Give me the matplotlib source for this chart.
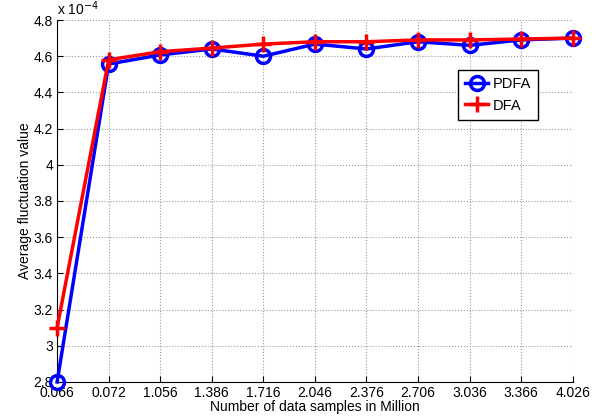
import matplotlib
matplotlib.use('Agg')
from matplotlib import pyplot as plt

labels = ['0.066', '0.072', '1.056', '1.386', '1.716', '2.046',
          '2.376', '2.706', '3.036', '3.366', '4.026']
pdfa = [2.80, 4.557, 4.607, 4.64, 4.60, 4.667, 4.64, 4.68, 4.66, 4.69, 4.70]
dfa = [3.10, 4.58, 4.625, 4.645, 4.667, 4.68, 4.68, 4.69, 4.69, 4.695, 4.70]

plt.rcParams['font.family'] = ['Liberation Sans', 'DejaVu Sans']
plt.rcParams['font.size'] = 10

fig = plt.figure(figsize=(6.01, 4.17), dpi=100)
ax = fig.add_axes([0.095, 0.084, 0.858, 0.868])
x = list(range(len(labels)))
ax.plot(x, pdfa, color='blue', lw=2.5, marker='o', ms=10, mfc='none',
        mew=2.5, label='PDFA', clip_on=False, zorder=3)
ax.plot(x, dfa, color='red', lw=2.5, marker='+', ms=12, mew=2.5, label='DFA',
        clip_on=False, zorder=4)

ax.set_xlim(0, 10)
ax.set_ylim(2.8, 4.8)
ax.set_xticks(x)
ax.set_xticklabels(labels)
ax.set_yticks([2.8, 3, 3.2, 3.4, 3.6, 3.8, 4, 4.2, 4.4, 4.6, 4.8])
ax.set_yticklabels(['2.8', '3', '3.2', '3.4', '3.6', '3.8', '4', '4.2',
                    '4.4', '4.6', '4.8'])
ax.grid(True, linestyle=':', color='#999999', lw=0.8)
ax.tick_params(direction='in', length=4, pad=3)
ax.spines['top'].set_visible(False)
ax.spines['right'].set_visible(False)
ax.set_xlabel('Number of data samples in Million', labelpad=0)
ax.set_ylabel('Average fluctuation value', labelpad=1)
ax.text(0.0, 1.005, r'x 10$^{-4}$', transform=ax.transAxes, ha='left', va='bottom')

leg = ax.legend(loc='upper left', bbox_to_anchor=(0.777, 0.862), fancybox=False,
                edgecolor='black', framealpha=1, handlelength=1.6,
                borderpad=0.5, labelspacing=0.5, handletextpad=0.3,
                borderaxespad=0, fontsize=10.5)
leg.get_frame().set_linewidth(1.0)

plt.savefig('out.png', dpi=100)
